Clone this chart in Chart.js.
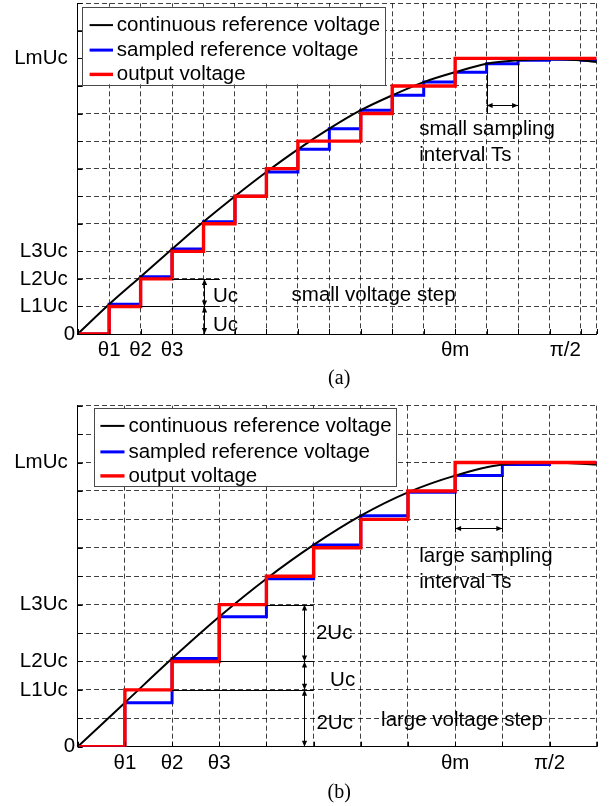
<!DOCTYPE html>
<html>
<head>
<meta charset="utf-8">
<script src="https://cdn.jsdelivr.net/npm/chart.js@4.4.1/dist/chart.umd.min.js"></script>
<style>
  html, body { margin: 0; padding: 0; background: #fff; }
  #wrap { position: relative; width: 611px; height: 806px; overflow: hidden; }
  .panel { position: absolute; left: 0; width: 611px; height: 403px; }
</style>
</head>
<body>
<div id="wrap">
  <div class="panel" style="top:0"><canvas id="chartA" width="611" height="403"></canvas></div>
  <div class="panel" style="top:403px"><canvas id="chartB" width="611" height="403"></canvas></div>
</div>
<script>
// ---------- series names ----------
const seriesNames = ['continuous reference voltage', 'sampled reference voltage', 'output voltage'];

// ---------- panel (a): small sampling interval, small voltage step ----------
const instantsA   = [0, 1, 2, 3, 4, 5, 6, 7, 8, 9, 10, 11, 12, 13, 14, 15, 16];
const endA        = 16.5;
const curveXA     = [0, 1, 2, 3, 4, 5, 6, 7, 8, 9, 10, 11, 12, 13, 14, 15, 16, 16.5];
const curveYA     = [0, 1.08, 2.08, 3.08, 4.07, 5.0, 5.88, 6.70, 7.45, 8.12, 8.66, 9.14, 9.50, 9.81, 9.93, 9.97, 9.93, 9.87];
const sampledA    = [0, 1.08, 2.08, 3.08, 4.07, 5.0, 5.88, 6.70, 7.45, 8.12, 8.66, 9.14, 9.50, 9.81, 9.93, 9.97, 9.93];
const outputA     = [0, 1, 2, 3, 4, 5, 6, 7, 7, 8, 9, 9, 10, 10, 10, 10, 10];
const levelValsA  = [1, 2, 3, 10];
const levelNamesA = ['L1Uc', 'L2Uc', 'L3Uc', 'LmUc'];
const angleValsA  = [1, 2, 3, 12, 15.5];
const angleNamesA = ['θ1', 'θ2', 'θ3', 'θm', 'π/2'];

// ---------- panel (b): large sampling interval, large voltage step ----------
const instantsB   = [0, 1, 2, 3, 4, 5, 6, 7, 8, 9, 10];
const endB        = 11;
const curveXB     = [0, 1, 2, 3, 4, 5, 6, 7, 8, 9, 10, 11];
const curveYB     = [0, 1.55, 3.10, 4.57, 5.91, 7.10, 8.13, 8.95, 9.54, 9.93, 10.0, 9.93];
const sampledB    = [0, 1.55, 3.10, 4.57, 5.91, 7.10, 8.13, 8.95, 9.54, 9.93, 10.0];
const outputB     = [0, 2, 3, 5, 6, 7, 8, 9, 10, 10, 10];
const levelValsB  = [2, 3, 5, 10];
const levelNamesB = ['L1Uc', 'L2Uc', 'L3Uc', 'LmUc'];
const angleValsB  = [1, 2, 3, 8, 10];
const angleNamesB = ['θ1', 'θ2', 'θ3', 'θm', 'π/2'];

// ---------- styling ----------
const SANS = '"Liberation Sans", Arial, Helvetica, sans-serif';
const SERIF = '"Liberation Serif", "Times New Roman", serif';
const FONT_PX = 20.5;
const GRID = 'rgba(0,0,0,0.75)';

// zero-order-hold series: each value holds until the next instant
function holdPoints(instants, values, end) {
  const pts = instants.map((t, i) => ({ x: t, y: values[i] }));
  pts.push({ x: end, y: values[values.length - 1] });
  return pts;
}
function curvePoints(xs, ys) {
  return xs.map((x, i) => ({ x, y: ys[i] }));
}

// legend box, helper lines, arrows, notes and caption
const notesPlugin = {
  id: 'notes',
  afterDatasetsDraw(chart, args, o) {
    const { ctx, chartArea: ca } = chart;
    const X = v => chart.scales.x.getPixelForValue(v);
    const Y = v => chart.scales.y.getPixelForValue(v);
    ctx.save();

    // inward tick marks on the left and bottom axes
    ctx.strokeStyle = '#000';
    ctx.lineWidth = 1;
    ctx.beginPath();
    chart.scales.y.ticks.forEach(t => {
      const y = Math.round(Y(t.value)) + 0.5;
      ctx.moveTo(ca.left, y); ctx.lineTo(ca.left + 5, y);
    });
    chart.scales.x.ticks.forEach(t => {
      if (o.noTick.includes(t.value)) return;
      const x = Math.round(X(t.value)) + 0.5;
      ctx.moveTo(x, ca.bottom); ctx.lineTo(x, ca.bottom - 5);
    });
    ctx.stroke();

    // thin helper lines
    ctx.strokeStyle = '#000';
    ctx.lineWidth = 1;
    ctx.beginPath();
    o.hlines.forEach(([x1, x2, y]) => {
      const py = Math.round(Y(y)) + 0.5;
      ctx.moveTo(X(x1), py); ctx.lineTo(X(x2), py);
    });
    o.vlines.forEach(([x, y1, y2]) => {
      const px = Math.round(X(x)) + 0.5;
      ctx.moveTo(px, Y(y1)); ctx.lineTo(px, Y(y2));
    });
    ctx.stroke();

    // double-headed arrows
    const head = (x, y, dx, dy) => {
      // arrow tip at (x,y), pointing along (dx,dy)
      const L = 6, W = 2.6;
      const nx = -dy, ny = dx;
      ctx.beginPath();
      ctx.moveTo(x, y);
      ctx.lineTo(x - dx * L + nx * W, y - dy * L + ny * W);
      ctx.lineTo(x - dx * L - nx * W, y - dy * L - ny * W);
      ctx.closePath();
      ctx.fill();
    };
    ctx.fillStyle = '#000';
    o.varrows.forEach(([x, y1, y2]) => {
      const px = Math.round(X(x)) + 0.5, a = Y(y1), b = Y(y2);
      ctx.beginPath(); ctx.moveTo(px, a); ctx.lineTo(px, b); ctx.stroke();
      head(px, a, 0, -1);
      head(px, b, 0, 1);
    });
    o.harrows.forEach(([x1, x2, y]) => {
      const py = Math.round(Y(y)) + 0.5, a = X(x1), b = X(x2);
      ctx.beginPath(); ctx.moveTo(a, py); ctx.lineTo(b, py); ctx.stroke();
      head(a, py, -1, 0);
      head(b, py, 1, 0);
    });

    // text notes
    ctx.font = FONT_PX + 'px ' + SANS;
    ctx.fillStyle = '#000';
    ctx.textAlign = 'left';
    ctx.textBaseline = 'middle';
    o.texts.forEach(([s, x, y]) => ctx.fillText(s, X(x), Y(y)));

    // origin label
    ctx.textAlign = 'right';
    ctx.fillText('0', ca.left - 2.5, Y(0));

    // legend
    const L = o.legend;
    const bx = ca.left + L.dx, by = ca.top + L.dy;
    ctx.fillStyle = '#fff';
    ctx.fillRect(bx, by, L.w, L.h);
    ctx.strokeStyle = '#4a4a4a';
    ctx.lineWidth = 1;
    ctx.strokeRect(Math.round(bx) + 0.5, Math.round(by) + 0.5, Math.round(L.w), Math.round(L.h));
    [0, 1, 2].forEach((di, r) => {
      const ds = chart.data.datasets[di];
      const ry = by + L.rowY[r];
      ctx.strokeStyle = ds.borderColor;
      ctx.lineWidth = ds.borderWidth;
      ctx.beginPath();
      ctx.moveTo(bx + L.lineX[0], ry); ctx.lineTo(bx + L.lineX[1], ry);
      ctx.stroke();
      ctx.fillStyle = '#000';
      ctx.textAlign = 'left';
      ctx.fillText(ds.label, bx + L.textX, ry);
    });

    // caption under the panel
    ctx.font = '20px ' + SERIF;
    ctx.textAlign = 'center';
    ctx.fillStyle = '#000';
    ctx.fillText(o.caption, (ca.left + ca.right) / 2 + 2, ca.bottom + o.captionDy);

    ctx.restore();
  }
};

function buildChart(id, d) {
  const xTicks = d.xTicks;
  return new Chart(document.getElementById(id), {
    type: 'line',
    data: {
      datasets: [
        { label: seriesNames[0], data: curvePoints(d.cx, d.cy), borderColor: '#000000', borderWidth: 2,
          cubicInterpolationMode: 'monotone', pointRadius: 0, order: 1 },
        { label: seriesNames[1], data: holdPoints(d.inst, d.sampled, d.end), borderColor: '#0000ff', borderWidth: 3,
          stepped: 'before', pointRadius: 0, borderJoinStyle: 'miter', order: 2 },
        { label: seriesNames[2], data: holdPoints(d.inst, d.output, d.end), borderColor: '#ff0000', borderWidth: 3.4,
          stepped: 'before', pointRadius: 0, borderJoinStyle: 'miter', order: 0 }
      ]
    },
    options: {
      responsive: false,
      animation: false,
      events: [],
      layout: { padding: { left: 0, top: d.padTop, right: 14.3, bottom: d.padBottom } },
      plugins: { legend: { display: false }, tooltip: { enabled: false }, notes: d.notes },
      scales: {
        x: {
          type: 'linear', min: 0, max: d.end,
          afterBuildTicks: s => { s.ticks = xTicks.map(v => ({ value: v })); },
          afterFit: s => { s.height = 40; s.paddingLeft = 0; s.paddingRight = 0; },
          ticks: {
            autoSkip: false, maxRotation: 0, minRotation: 0, padding: 4, color: '#000',
            font: { family: SANS, size: FONT_PX },
            callback: v => { const i = d.angleVals.indexOf(v); return i < 0 ? '' : d.angleNames[i]; }
          },
          grid: {
            drawTicks: false, lineWidth: 1,
            color: c => (c.tick && d.notes.noTick.includes(c.tick.value)) ? 'rgba(0,0,0,0)' : GRID
          },
          border: { display: true, color: '#000', width: 1, dash: [5, 3] }
        },
        y: {
          type: 'linear', min: 0, max: 12,
          afterBuildTicks: s => { s.ticks = [0,1,2,3,4,5,6,7,8,9,10,11,12].map(v => ({ value: v })); },
          afterFit: s => { s.width = 77.7; s.paddingTop = 0; s.paddingBottom = 0; },
          ticks: {
            autoSkip: false, padding: 10, color: '#000',
            font: { family: SANS, size: FONT_PX },
            callback: v => { const i = d.levelVals.indexOf(v); return i < 0 ? '' : d.levelNames[i]; }
          },
          grid: { drawTicks: false, lineWidth: 1, color: GRID },
          border: { display: true, color: '#000', width: 1, dash: [5, 3] }
        }
      }
    },
    plugins: [notesPlugin]
  });
}

buildChart('chartA', {
  inst: instantsA, end: endA, cx: curveXA, cy: curveYA, sampled: sampledA, output: outputA,
  levelVals: levelValsA, levelNames: levelNamesA, angleVals: angleValsA, angleNames: angleNamesA,
  xTicks: [0, 1, 2, 3, 4, 5, 6, 7, 8, 9, 10, 11, 12, 13, 14, 15, 15.5, 16, 16.5],
  padTop: 3.3, padBottom: 29,
  notes: {
    noTick: [15.5],
    legend: { dx: 4.6, dy: 3.4, w: 303, h: 77.6, rowY: [18.4, 43.4, 67.7], lineX: [7.3, 30.7], textX: 34.5 },
    hlines: [[2, 4.52, levelValsA[0]], [3, 4.52, levelValsA[1]]],
    vlines: [[13, sampledA[12], 8.0], [14, sampledA[13], 8.0]],
    varrows: [[4, levelValsA[1], levelValsA[0]], [4, levelValsA[0], 0]],
    harrows: [[13, 14, 8.32]],
    texts: [['Uc', 4.3, 1.36], ['Uc', 4.3, 0.32], ['small voltage step', 6.8, 1.41],
            ['small sampling', 10.86, 7.42], ['interval Ts', 10.86, 6.49]],
    caption: '(a)', captionDy: 45
  }
});

buildChart('chartB', {
  inst: instantsB, end: endB, cx: curveXB, cy: curveYB, sampled: sampledB, output: outputB,
  levelVals: levelValsB, levelNames: levelNamesB, angleVals: angleValsB, angleNames: angleNamesB,
  xTicks: [0, 1, 2, 3, 4, 5, 6, 7, 8, 9, 10, 11],
  padTop: 2.7, padBottom: 19.3,
  notes: {
    noTick: [],
    legend: { dx: 16.6, dy: 2.6, w: 301.7, h: 77.7, rowY: [17.6, 43.6, 67.6], lineX: [6.1, 30.2], textX: 34.1 },
    hlines: [[4, 5, levelValsB[2]], [3, 5, levelValsB[1]], [2, 5, levelValsB[0]]],
    vlines: [[8, sampledB[7], 7.54], [9, sampledB[8], 7.54]],
    varrows: [[4.79, levelValsB[2], levelValsB[1]], [4.79, levelValsB[1], levelValsB[0]], [4.79, levelValsB[0], 0]],
    harrows: [[8, 9, 7.68]],
    texts: [['2Uc', 5.05, 4.0], ['Uc', 5.35, 2.32], ['2Uc', 5.06, 0.83], ['large voltage step', 6.43, 0.94],
            ['large sampling', 7.24, 6.71], ['interval Ts', 7.24, 5.77]],
    caption: '(b)', captionDy: 46.3
  }
});
</script>
</body>
</html>
